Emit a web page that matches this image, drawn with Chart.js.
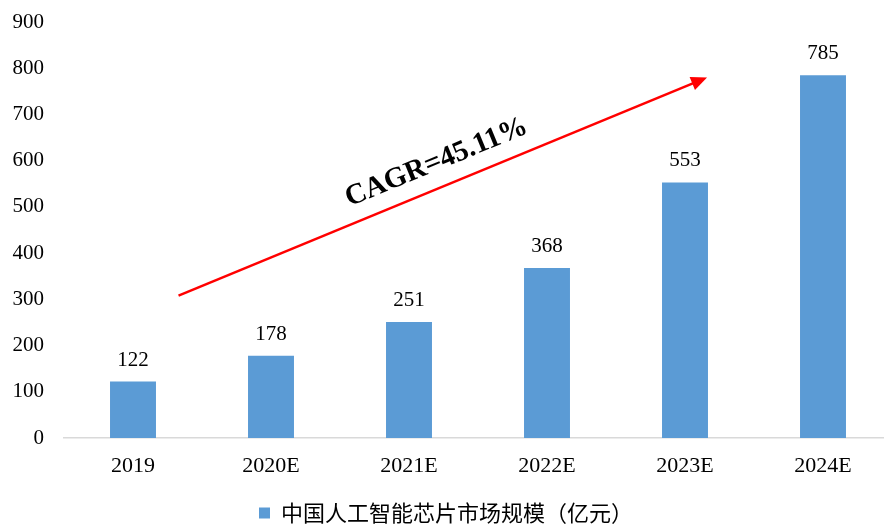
<!DOCTYPE html>
<html lang="zh">
  <head>
    <meta charset="UTF-8" />
    <title>中国人工智能芯片市场规模</title>
    <style>
      * {
        margin: 0;
        padding: 0;
      }
      body {
        background: white;
        overflow: hidden;
      }
    </style>
  </head>
  <body>
    <canvas id="myChart" width="892" height="525"></canvas>

    <script src="https://cdn.jsdelivr.net/npm/chart.js"></script>
    <script>
      const years = ["2019", "2020E", "2021E", "2022E", "2023E", "2024E"];
      const marketSize = [122, 178, 251, 368, 553, 785];
      const seriesName = "中国人工智能芯片市场规模（亿元）";
      const cagrText = "CAGR=45.11%";
      // arrow ends in (category index, value) units
      const arrowFrom = [0.33, 308];
      const arrowTo = [4.16, 780];

      const serif = "'Liberation Serif', 'Times New Roman', serif";

      const extras = {
        id: "extras",
        afterDatasetsDraw(chart) {
          const { ctx, scales } = chart;
          const meta = chart.getDatasetMeta(0);
          ctx.save();
          ctx.fillStyle = "#000";
          ctx.font = "21px " + serif;
          ctx.textAlign = "center";
          ctx.textBaseline = "alphabetic";
          meta.data.forEach((bar, i) => {
            ctx.fillText(marketSize[i], bar.x, bar.y - 16);
          });

          const x1 = scales.x.getPixelForValue(arrowFrom[0]);
          const y1 = scales.y.getPixelForValue(arrowFrom[1]);
          const x2 = scales.x.getPixelForValue(arrowTo[0]);
          const y2 = scales.y.getPixelForValue(arrowTo[1]);
          const ang = Math.atan2(y2 - y1, x2 - x1);
          const head = 16;
          ctx.strokeStyle = "#ff0000";
          ctx.fillStyle = "#ff0000";
          ctx.lineWidth = 2.5;
          ctx.beginPath();
          ctx.moveTo(x1, y1);
          ctx.lineTo(x2 - head * 0.8 * Math.cos(ang), y2 - head * 0.8 * Math.sin(ang));
          ctx.stroke();
          ctx.beginPath();
          ctx.moveTo(x2, y2);
          ctx.lineTo(x2 - head * Math.cos(ang) + 7 * Math.sin(ang), y2 - head * Math.sin(ang) - 7 * Math.cos(ang));
          ctx.lineTo(x2 - head * Math.cos(ang) - 7 * Math.sin(ang), y2 - head * Math.sin(ang) + 7 * Math.cos(ang));
          ctx.closePath();
          ctx.fill();

          const tx = scales.x.getPixelForValue(2.2);
          const ty = scales.y.getPixelForValue(596);
          ctx.translate(tx, ty);
          ctx.rotate(ang);
          ctx.fillStyle = "#000";
          ctx.font = "bold 29px " + serif;
          ctx.textBaseline = "middle";
          ctx.fillText(cagrText, 0, 0);
          ctx.restore();
        },
      };

      const ctx = document.getElementById("myChart");
      new Chart(ctx, {
        type: "bar",
        data: {
          labels: years,
          datasets: [
            {
              label: seriesName,
              data: marketSize,
              backgroundColor: "#5b9bd5",
              barPercentage: 0.333,
              categoryPercentage: 1,
            },
          ],
        },
        options: {
          responsive: false,
          animation: false,
          layout: { padding: { top: 0, left: 0, right: 0, bottom: -9 } },
          plugins: {
            legend: {
              position: "bottom",
              labels: {
                color: "#000",
                boxWidth: 11,
                boxHeight: 11,
                padding: 2,
                font: { size: 22, family: "'Noto Sans CJK SC', sans-serif" },
              },
            },
            tooltip: { enabled: false },
          },
          scales: {
            x: {
              grid: { display: false, drawTicks: false },
              border: { color: "#d9d9d9", width: 1.5 },
              ticks: {
                color: "#000",
                padding: 15,
                maxRotation: 0,
                font: { size: 22, family: serif },
              },
              afterFit(scale) {
                scale.height = 62;
              },
            },
            y: {
              min: 0,
              max: 900,
              grid: { display: false, drawTicks: false },
              border: { display: false },
              ticks: {
                stepSize: 100,
                color: "#000",
                padding: 20,
                font: { size: 21, family: serif },
              },
              afterFit(scale) {
                scale.width = 64;
                scale.paddingTop = 22;
              },
            },
          },
        },
        plugins: [extras],
      });
    </script>
  </body>
</html>
